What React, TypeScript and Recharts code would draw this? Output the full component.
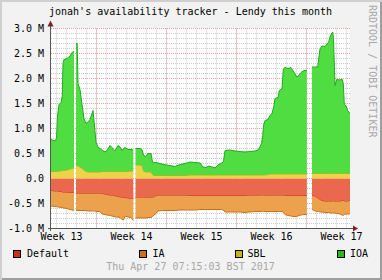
import React from "react";
import { ComposedChart, Area, XAxis, YAxis, CartesianGrid } from "recharts";

// x position in days from the left edge of the graph
const days = [
  0, 0.4, 0.55, 0.65, 0.8, 1.0, 1.13, 1.2, 1.3, 1.6,
  1.9, 2.1, 2.3, 2.4, 2.5, 2.62, 2.7, 2.9, 3.1, 3.3,
  3.5, 3.7, 3.9, 4.1, 4.2, 4.35, 4.5, 4.7, 4.9, 5.1,
  5.4, 5.6, 5.9, 6.1, 6.3, 6.5, 6.7, 6.9, 7.1, 7.25,
  7.4, 7.7, 8.0, 8.23, 8.34, 8.45, 8.9, 9.1, 9.25, 9.5,
  9.7, 10.0, 10.15, 10.3, 10.5, 10.7, 11.1, 11.5, 11.9, 12.4,
  12.9, 13.4, 13.9, 14.4, 14.9, 15.2, 15.5, 15.8, 16.1, 16.4,
  16.7, 17.07, 17.25, 17.4, 17.9, 18.4, 18.9, 19.4, 19.9, 20.4,
  20.7, 20.9, 21.05, 21.17, 21.25, 21.4, 21.7, 21.9, 22.1, 22.3,
  22.4, 22.7, 22.83, 23.1, 23.23, 23.4, 23.7, 24.0, 24.2, 24.57,
  24.8, 25.0, 25.3, 25.58, 25.85, 26.1, 26.4, 26.67, 26.77, 26.9,
  27.1, 27.4, 27.6, 27.77, 27.9, 28.03, 28.17, 28.25, 28.4, 28.57,
  28.9, 29.1, 29.23, 29.33, 29.5, 29.67, 29.9,
];

const defaultVals = [
  -0.25, -0.26, -0.26, -0.26, -0.27, -0.27, -0.28, -0.28, -0.28, -0.28,
  -0.29, -0.29, -0.29, null, -0.3, -0.3, -0.3, -0.3, -0.3, -0.3,
  -0.3, -0.3, -0.3, -0.3, -0.3, -0.3, -0.3, -0.3, -0.3, -0.31,
  -0.32, -0.33, -0.34, -0.34, -0.35, -0.36, -0.37, -0.38, -0.38, -0.39,
  -0.39, -0.4, -0.4, -0.41, null, -0.38, -0.38, -0.38, -0.38, -0.38,
  -0.38, -0.38, -0.38, -0.38, -0.35, -0.34, -0.34, -0.34, -0.34, -0.34,
  -0.34, -0.34, -0.35, -0.35, -0.35, -0.35, -0.35, -0.35, -0.35, -0.35,
  -0.35, -0.35, -0.35, -0.35, -0.35, -0.35, -0.35, -0.35, -0.34, -0.34,
  -0.34, -0.34, -0.34, -0.34, -0.34, -0.34, -0.34, -0.34, -0.34, -0.34,
  -0.34, -0.34, -0.34, -0.34, -0.34, -0.35, -0.35, -0.35, -0.35, -0.35,
  -0.35, -0.35, -0.35, -0.35, null, -0.35, -0.36, -0.4, -0.41, -0.43,
  -0.45, -0.46, -0.46, -0.46, -0.46, -0.46, -0.46, -0.46, -0.46, -0.46,
  -0.46, -0.45, -0.45, -0.46, -0.46, -0.46, -0.45,
];

const iaVals = [
  -0.3, -0.3, -0.3, -0.31, -0.3, -0.31, -0.3, -0.31, -0.31, -0.32,
  -0.33, -0.34, -0.35, null, -0.34, -0.34, -0.34, -0.34, -0.34, -0.34,
  -0.34, -0.35, -0.35, -0.35, -0.35, -0.35, -0.36, -0.36, -0.36, -0.4,
  -0.4, -0.4, -0.4, -0.41, -0.41, -0.41, -0.4, -0.4, -0.44, -0.44,
  -0.36, -0.37, -0.38, -0.43, null, -0.41, -0.41, -0.41, -0.41, -0.41,
  -0.4, -0.4, -0.38, -0.35, -0.35, -0.31, -0.3, -0.3, -0.3, -0.3,
  -0.29, -0.29, -0.28, -0.28, -0.27, -0.27, -0.27, -0.27, -0.27, -0.27,
  -0.27, -0.27, -0.28, -0.32, -0.32, -0.32, -0.32, -0.33, -0.33, -0.32,
  -0.32, -0.32, -0.32, -0.32, -0.32, -0.32, -0.32, -0.32, -0.32, -0.32,
  -0.32, -0.32, -0.32, -0.32, -0.33, -0.37, -0.39, -0.4, -0.41, -0.41,
  -0.39, -0.38, -0.37, -0.37, null, -0.27, -0.29, -0.26, -0.25, -0.24,
  -0.22, -0.22, -0.22, -0.22, -0.23, -0.23, -0.23, -0.23, -0.23, -0.24,
  -0.25, -0.28, -0.29, -0.26, -0.25, -0.25, -0.26,
];

const sblVals = [
  0.14, 0.14, 0.14, 0.14, 0.15, 0.15, 0.16, 0.16, 0.16, 0.17,
  0.19, 0.2, 0.21, null, 0.26, 0.26, 0.25, 0.23, 0.2, 0.17,
  0.14, 0.13, 0.13, 0.13, 0.13, 0.13, 0.13, 0.13, 0.13, 0.14,
  0.14, 0.14, 0.14, 0.14, 0.14, 0.14, 0.14, 0.14, 0.14, 0.14,
  0.14, 0.14, 0.15, 0.15, null, 0.27, 0.27, 0.26, 0.15, 0.13,
  0.13, 0.13, 0.08, 0.06, 0.06, 0.06, 0.06, 0.06, 0.06, 0.06,
  0.06, 0.06, 0.07, 0.07, 0.07, 0.07, 0.07, 0.07, 0.07, 0.07,
  0.07, 0.07, 0.07, 0.07, 0.07, 0.07, 0.07, 0.07, 0.07, 0.07,
  0.07, 0.07, 0.07, 0.07, 0.07, 0.07, 0.08, 0.09, 0.09, 0.09,
  0.09, 0.09, 0.09, 0.09, 0.09, 0.09, 0.09, 0.09, 0.09, 0.09,
  0.09, 0.09, 0.09, 0.09, null, 0.1, 0.1, 0.1, 0.1, 0.1,
  0.1, 0.1, 0.1, 0.1, 0.1, 0.1, 0.1, 0.1, 0.1, 0.1,
  0.1, 0.1, 0.1, 0.1, 0.1, 0.1, 0.1,
];

const ioaVals = [
  0.64, 0.61, 0.66, 1.11, 1.33, 1.37, 1.49, 2.14, 2.22, 2.23,
  2.26, 2.32, 2.33, null, 2.44, 2.44, 1.65, 1.55, 1.28, 1.03,
  0.96, 1.0, 1.05, 1.17, 1.23, 0.92, 0.59, 0.5, 0.47, 0.43,
  0.39, 0.42, 0.52, 0.48, 0.42, 0.44, 0.52, 0.49, 0.42, 0.46,
  0.48, 0.44, 0.43, 0.42, null, 0.33, 0.33, 0.32, 0.31, 0.31,
  0.37, 0.37, 0.25, 0.26, 0.26, 0.25, 0.23, 0.21, 0.2, 0.18,
  0.22, 0.24, 0.26, 0.25, 0.24, 0.16, 0.15, 0.18, 0.16, 0.14,
  0.2, 0.24, 0.27, 0.49, 0.5, 0.48, 0.47, 0.46, 0.47, 0.48,
  0.5, 0.56, 0.63, 0.79, 0.99, 1.09, 1.1, 1.17, 1.21, 1.37,
  1.51, 1.53, 1.67, 1.71, 2.1, 2.13, 2.11, 2.13, 2.07, 1.94,
  1.98, 2.03, 2.07, 2.07, null, 2.13, 2.13, 2.13, 2.29, 2.49,
  2.55, 2.54, 2.59, 2.63, 2.73, 2.79, 2.83, 2.7, 1.76, 1.88,
  1.87, 1.89, 1.8, 1.39, 1.35, 1.26, 1.2,
];

const weekLabels = ["Week 13", "Week 14", "Week 15", "Week 16", "Week 17"];
const weekLabelDays = [1.05, 8.05, 15.05, 22.05, 29.05];
const weekStartDays = [4.55, 11.55, 18.55, 25.55];
const yTicks = [-1, -0.5, 0, 0.5, 1, 1.5, 2, 2.5, 3];

const series = [
  { key: "Default", fill: "#e9684e", line: "#c8301a", swatch: "#cc3118", lx: 13, tx: 27 },
  { key: "IA", fill: "#eca24c", line: "#cc7016", swatch: "#cc7016", lx: 139, tx: 152.5 },
  { key: "SBL", fill: "#edd24a", line: "#ccaa10", swatch: "#c9b215", lx: 235, tx: 247.5 },
  { key: "IOA", fill: "#50dd42", line: "#22aa22", swatch: "#24bc14", lx: 337, tx: 350 },
];

const data = days.map((d, i) => ({
  day: d,
  Default: defaultVals[i],
  IA: iaVals[i],
  SBL: sblVals[i],
  IOA: ioaVals[i],
}));

const minorX = Array.from({ length: 30 }, (_, k) => 0.55 + k);
const minorY = Array.from({ length: 41 }, (_, k) => Math.round((-1 + k * 0.1) * 10) / 10);
const majorY = yTicks.filter((v) => v > -1);

const mono = "DejaVu Sans Mono";
const fmtY = (v: number) => (v === 0 ? "0.0" : `${v.toFixed(1)} M`);

export default function App() {
  return (
    <div
      style={{
        position: "absolute",
        left: 0,
        top: 0,
        width: 382,
        height: 280,
        background: "#f2f2f2",
        boxShadow: "inset 2px 2px 0 #cfcfcf, inset -2px -2px 0 #9e9e9e",
      }}
    >
      <ComposedChart
        width={382}
        height={280}
        data={data}
        stackOffset="sign"
        margin={{ top: 28.5, right: 32, left: 0, bottom: 31.5 }}
      >
        <CartesianGrid
          fill="#ffffff"
          stroke="#cdcdcd"
          strokeDasharray="1 1"
          horizontalValues={minorY}
          verticalValues={minorX}
        />
        <CartesianGrid
          stroke="#eda0a0"
          strokeDasharray="1 1"
          horizontalValues={majorY}
          verticalValues={weekStartDays}
        />
        <XAxis
          dataKey="day"
          type="number"
          domain={[0, 29.9]}
          allowDataOverflow
          ticks={weekLabelDays}
          interval={0}
          tickFormatter={(_v: number, i: number) => weekLabels[i]}
          axisLine={false}
          tickLine={false}
          tickSize={0}
          tickMargin={4}
          height={20}
          tick={{ fontSize: 10, fontFamily: mono, fill: "#000" }}
        />
        <YAxis
          type="number"
          domain={[-1, 3]}
          ticks={yTicks}
          interval={0}
          tickFormatter={fmtY}
          axisLine={false}
          tickLine={false}
          tickSize={0}
          tickMargin={7}
          width={51}
          tick={{ fontSize: 10, fontFamily: mono, fill: "#000" }}
        />
        {series.map((s) => (
          <Area
            key={s.key}
            dataKey={s.key}
            stackId="a"
            type="linear"
            fill={s.fill}
            fillOpacity={1}
            stroke={s.line}
            strokeWidth={1}
            dot={false}
            activeDot={false}
            isAnimationActive={false}
          />
        ))}
      </ComposedChart>
      <svg
        width={382}
        height={280}
        style={{ position: "absolute", left: 0, top: 0, pointerEvents: "none" }}
        fontFamily={mono}
        fontSize={10}
      >
        <line x1={50.5} y1={231} x2={50.5} y2={24} stroke="#555" />
        <line x1={48} y1={228.5} x2={354} y2={228.5} stroke="#555" />
        <polygon points="47.5,26.5 53.5,26.5 50.5,20.5" fill="#801f1f" />
        <polygon points="353,225.5 353,231.5 358,228.5" fill="#801f1f" />
        <text x={190.5} y={14.5} textAnchor="middle" fill="#000">
          jonah's availability tracker - Lendy this month
        </text>
        <text transform="translate(368.5,5) rotate(90)" fill="#a8a8a8">
          RRDTOOL / TOBI OETIKER
        </text>
        {series.map((s) => (
          <g key={s.key}>
            <rect x={s.lx + 0.5} y={250.5} width={7} height={7} fill={s.swatch} stroke="#000" />
            <text x={s.tx} y={257} fill="#000">
              {s.key}
            </text>
          </g>
        ))}
        <text x={190.5} y={270} textAnchor="middle" fill="#a8a8a8">
          Thu Apr 27 07:15:03 BST 2017
        </text>
      </svg>
    </div>
  );
}
